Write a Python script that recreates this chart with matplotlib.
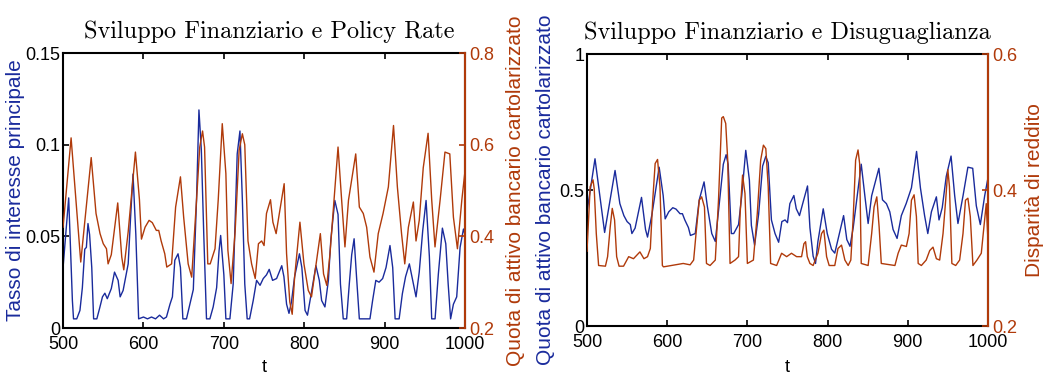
import numpy as np
import matplotlib.pyplot as plt

# policy rate (blue, left panel)
t_rate = [500, 507, 511.6, 513, 517, 521, 524, 527, 529, 531, 533, 535.7, 538, 542, 545.6, 549, 552, 555,
          560, 564, 568.5, 571, 574.7, 578, 581, 584, 587, 590.5, 594, 600, 605, 610, 615, 620, 625, 628.6,
          633, 636, 639, 643, 646, 649, 653.5, 657.7, 662, 666, 669, 672, 675, 678.4, 682.6, 686.7, 691,
          694, 696, 700, 702.5, 707.5, 711.6, 716.6, 720, 723, 726, 729, 732, 736.5, 740.7, 745, 749, 753,
          756.4, 760.6, 765.6, 772, 774.7, 778, 781, 784, 788, 794, 797, 801, 804, 809, 814.5, 818.7,
          821.6, 825.7, 830, 833, 838, 842, 845, 848.5, 852.7, 856, 859, 862, 865, 868.5, 875, 881.7,
          885, 889, 893, 897.5, 901.7, 906.6, 910, 913, 918, 922, 926, 930.7, 934.8, 939, 943, 947.3,
          951.5, 955.6, 958.5, 962.7, 966.8, 971.8, 976, 979, 982, 985.5, 989.6, 993.8, 998, 1000]
rate = [0.033, 0.071, 0.015, 0.005, 0.005, 0.0096, 0.022, 0.043, 0.044, 0.057, 0.051, 0.033, 0.005, 0.005,
        0.011, 0.017, 0.019, 0.016, 0.0215, 0.0305, 0.026, 0.017, 0.0205, 0.028, 0.035, 0.0605, 0.084,
        0.051, 0.005, 0.006, 0.005, 0.006, 0.005, 0.007, 0.005, 0.006, 0.013, 0.017, 0.037, 0.0405, 0.033,
        0.005, 0.005, 0.013, 0.021, 0.07, 0.119, 0.097, 0.051, 0.005, 0.005, 0.0115, 0.022, 0.042, 0.0505,
        0.029, 0.005, 0.005, 0.024, 0.095, 0.1075, 0.07, 0.024, 0.005, 0.005, 0.015, 0.026, 0.0233, 0.027,
        0.029, 0.032, 0.026, 0.027, 0.034, 0.028, 0.013, 0.008, 0.014, 0.028, 0.0405, 0.033, 0.0096, 0.007,
        0.0196, 0.034, 0.026, 0.015, 0.0115, 0.026, 0.048, 0.0696, 0.062, 0.024, 0.005, 0.005, 0.024, 0.04,
        0.0487, 0.028, 0.005, 0.005, 0.005, 0.015, 0.026, 0.025, 0.027, 0.033, 0.045, 0.033, 0.005, 0.005,
        0.0187, 0.028, 0.035, 0.026, 0.017, 0.0305, 0.053, 0.0696, 0.039, 0.005, 0.005, 0.0296, 0.0545,
        0.046, 0.024, 0.005, 0.013, 0.017, 0.044, 0.054, 0.051]

# share of securitized bank assets (brown left, blue right)
t_share = [500, 510, 522, 535, 541, 546, 550, 554, 556, 560, 568, 573, 575.5, 581, 590, 595, 597.5, 602,
           607, 611, 616, 619, 622, 626.5, 629, 635, 640, 646, 650, 655.6, 660, 666, 670, 673.5, 676, 680,
           683, 689, 693, 698, 702.5, 705, 709, 714, 719, 723, 726, 730, 734.5, 739, 743, 747, 750, 753,
           758, 761, 765, 769, 775, 778, 782, 785, 788, 794.6, 799.6, 805, 809, 813, 820, 824, 828, 832,
           837, 842, 846.5, 850.6, 855, 864, 868.5, 873.4, 877.6, 881.7, 886.7, 892, 898, 904.6, 911,
           915.8, 921, 925, 929.5, 935.7, 939, 943, 948, 954, 958.5, 962.6, 969, 975, 981, 985.5, 990.5,
           996, 1000]
share = [0.42, 0.615, 0.344, 0.572, 0.45, 0.406, 0.384, 0.373, 0.34, 0.36, 0.473, 0.355, 0.327, 0.41,
         0.584, 0.48, 0.394, 0.42, 0.435, 0.43, 0.413, 0.413, 0.39, 0.362, 0.333, 0.34, 0.464, 0.53, 0.442,
         0.34, 0.311, 0.479, 0.595, 0.63, 0.595, 0.34, 0.34, 0.373, 0.48, 0.646, 0.537, 0.37, 0.297, 0.41,
         0.588, 0.624, 0.6, 0.39, 0.34, 0.308, 0.384, 0.39, 0.38, 0.45, 0.48, 0.431, 0.406, 0.45, 0.515,
         0.362, 0.257, 0.23, 0.311, 0.431, 0.34, 0.282, 0.268, 0.318, 0.406, 0.318, 0.293, 0.362, 0.479,
         0.595, 0.479, 0.377, 0.479, 0.58, 0.464, 0.45, 0.42, 0.355, 0.322, 0.406, 0.45, 0.508, 0.642,
         0.508, 0.406, 0.34, 0.42, 0.475, 0.39, 0.435, 0.55, 0.625, 0.48, 0.377, 0.48, 0.584, 0.58, 0.442,
         0.373, 0.48, 0.544]

# income disparity (brown, right panel)
t_disp = [500, 504, 507.5, 509, 511.6, 514.5, 523, 525.7, 529, 531.5, 534.4, 537, 540, 545.6, 552, 558,
          566, 571, 575.5, 579, 582, 585, 588, 591, 594, 595.4, 620, 628.6, 633, 636, 640, 643, 646.5, 649,
          653.5, 660, 664, 668, 670, 673, 675.5, 678.4, 684.6, 689, 691, 694, 697, 700, 707.5, 712.4,
          716.6, 720, 723, 726, 729, 736.5, 742.7, 749, 755, 761.4, 767.6, 770.5, 772.6, 774.7, 778, 782,
          788, 792.5, 795.4, 798.8, 802, 809, 813, 817.4, 821.6, 825.7, 829, 832, 835, 838, 840, 842,
          850.6, 855, 858, 861.4, 864.3, 867, 884, 888, 892, 898.3, 901.7, 904.6, 907.9, 910.8, 913, 917,
          923, 927.4, 931.5, 935.7, 939.8, 944, 947.3, 950, 952, 955, 959.8, 964.7, 968.9, 972, 975, 978,
          981.3, 986.3, 991.7, 995, 997.9, 1000]
disp = [0.31, 0.405, 0.415, 0.402, 0.336, 0.289, 0.288, 0.302, 0.346, 0.373, 0.356, 0.302, 0.288, 0.288,
        0.302, 0.299, 0.309, 0.299, 0.302, 0.314, 0.385, 0.439, 0.445, 0.405, 0.289, 0.287, 0.292, 0.29,
        0.297, 0.336, 0.385, 0.39, 0.375, 0.292, 0.289, 0.297, 0.385, 0.506, 0.508, 0.498, 0.444, 0.292,
        0.297, 0.302, 0.366, 0.422, 0.395, 0.292, 0.297, 0.366, 0.444, 0.466, 0.461, 0.405, 0.292, 0.289,
        0.307, 0.302, 0.307, 0.302, 0.302, 0.321, 0.324, 0.302, 0.292, 0.289, 0.307, 0.336, 0.341, 0.302,
        0.289, 0.289, 0.314, 0.319, 0.297, 0.289, 0.297, 0.36, 0.444, 0.459, 0.439, 0.292, 0.289, 0.336,
        0.375, 0.39, 0.346, 0.292, 0.289, 0.307, 0.319, 0.317, 0.336, 0.385, 0.393, 0.361, 0.292, 0.289,
        0.297, 0.311, 0.316, 0.299, 0.297, 0.336, 0.385, 0.43, 0.405, 0.292, 0.289, 0.297, 0.336, 0.385,
        0.388, 0.361, 0.289, 0.297, 0.307, 0.346, 0.38, 0.326]

blue = '#1a2b9c'
brown = '#b03a0a'

plt.rcParams['font.family'] = ['Liberation Sans', 'DejaVu Sans']
plt.rcParams['font.size'] = 13

fig = plt.figure(figsize=(10.51, 3.73), dpi=100)


def style(ax):
    ax.tick_params(direction='in', length=4, width=1.2, top=True)
    ax.tick_params(axis='x', pad=6)
    ax.tick_params(axis='y', pad=2)
    for s in ax.spines.values():
        s.set_linewidth(1.5)


def right_axis(ax, color):
    ax.tick_params(direction='in', length=4, width=1.2, colors=color, pad=3)
    ax.spines['right'].set_color(color)
    ax.spines['right'].set_linewidth(1.5)
    for s in ['top', 'left', 'bottom']:
        ax.spines[s].set_visible(False)


# left panel
ax1 = fig.add_axes([0.060, 0.1206, 0.3825, 0.737])
ax1.plot(t_rate, rate, color=blue, lw=1)
ax1.set_xlim(500, 1000)
ax1.set_ylim(0, 0.15)
ax1.set_yticks([0, 0.05, 0.1, 0.15])
ax1.set_yticklabels(['0', '0.05', '0.1', '0.15'])
ax1.set_xticks([500, 600, 700, 800, 900, 1000])
ax1.set_ylabel('Tasso di interesse principale', color=blue, fontsize=15)
ax1.yaxis.set_label_coords(-0.094, 0.5)
ax1.set_xlabel('t')
ax1.xaxis.set_label_coords(0.5, -0.112)
ax1.set_title('Sviluppo Finanziario e Policy Rate', family='cmr10', fontsize=17.5, pad=11, x=0.512)
style(ax1)
ax1.tick_params(right=False)

ax1r = ax1.twinx()
ax1r.plot(t_share, share, color=brown, lw=1)
ax1r.set_ylim(0.2, 0.8)
ax1r.set_yticks([0.2, 0.4, 0.6, 0.8])
ax1r.set_ylabel('Quota di attivo bancario cartolarizzato', color=brown, fontsize=15)
ax1r.yaxis.set_label_coords(1.103, 0.5)
right_axis(ax1r, brown)

# right panel
ax2 = fig.add_axes([0.5585, 0.126, 0.3815, 0.729])
ax2.plot(t_share, share, color=blue, lw=1)
ax2.set_xlim(500, 1000)
ax2.set_ylim(0, 1)
ax2.set_yticks([0, 0.5, 1])
ax2.set_yticklabels(['0', '0.5', '1'])
ax2.set_xticks([500, 600, 700, 800, 900, 1000])
ax2.set_ylabel('Quota di attivo bancario cartolarizzato', color=blue, fontsize=15)
ax2.yaxis.set_label_coords(-0.08, 0.5)
ax2.set_xlabel('t')
ax2.xaxis.set_label_coords(0.5, -0.12)
ax2.set_title('Sviluppo Finanziario e Disuguaglianza', family='cmr10', fontsize=17.5, pad=11)
style(ax2)
ax2.tick_params(right=False)

ax2r = ax2.twinx()
ax2r.plot(t_disp, disp, color=brown, lw=1)
ax2r.set_ylim(0.2, 0.6)
ax2r.set_yticks([0.2, 0.4, 0.6])
ax2r.set_ylabel('Disparità di reddito', color=brown, fontsize=15)
ax2r.yaxis.set_label_coords(1.092, 0.5)
right_axis(ax2r, brown)

fig.savefig('out.png', dpi=100)
